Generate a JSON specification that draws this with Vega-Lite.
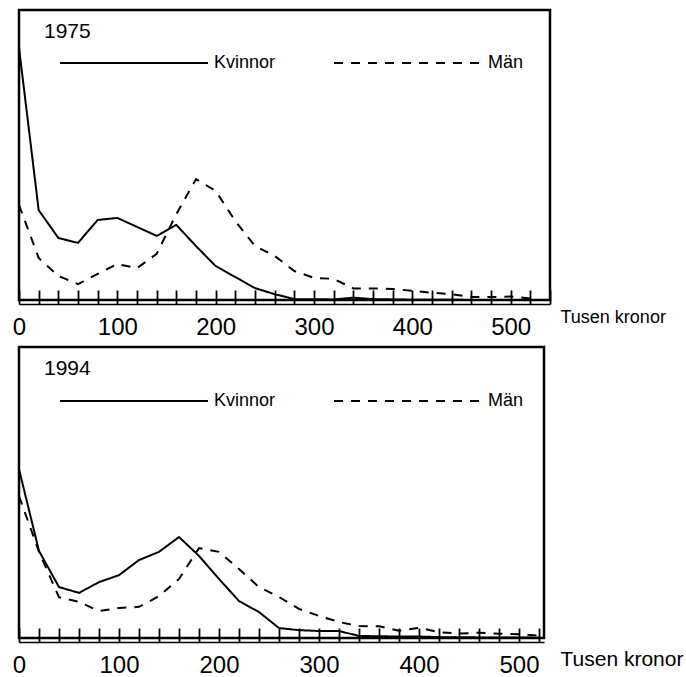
{
  "$schema": "https://vega.github.io/schema/vega-lite/v6.json",
  "padding": {"left": 11, "top": 8, "right": 0, "bottom": 0},
  "background": "white",
  "spacing": 4,
  "config": {
    "view": {"stroke": "black", "strokeWidth": 2.5},
    "font": "Liberation Sans",
    "title": {"fontWeight": "normal", "fontSize": 21, "color": "black"},
    "axis": {
      "grid": false,
      "domainColor": "black",
      "domainWidth": 1.5,
      "tickColor": "black",
      "tickWidth": 1.8,
      "tickSize": -14,
      "offset": 4,
      "labelColor": "black",
      "labelFontSize": 24,
      "labelPadding": 25,
      "labelFlush": false,
      "labelOverlap": false,
      "labelExpr": "datum.value % 100 == 0 ? datum.label : ''",
      "titleFontWeight": "normal",
      "titleColor": "black",
      "titleAlign": "left",
      "titleBaseline": "top",
      "titleAnchor": "start"
    },
    "legend": {
      "orient": "none",
      "direction": "horizontal",
      "symbolType": "M-10,0H10",
      "symbolSize": 219,
      "symbolStrokeWidth": 2,
      "symbolStrokeColor": "black",
      "labelFont": "Liberation Sans",
      "labelFontSize": 18,
      "labelColor": "black",
      "labelOffset": 71,
      "columnPadding": 54,
      "padding": 0,
      "title": null
    }
  },
  "data": {
    "values": [
      {"year": 1975, "sex": "Kvinnor", "income": 0, "share": 87},
      {"year": 1975, "sex": "Kvinnor", "income": 20, "share": 31},
      {"year": 1975, "sex": "Kvinnor", "income": 40, "share": 21.4},
      {"year": 1975, "sex": "Kvinnor", "income": 60, "share": 19.7},
      {"year": 1975, "sex": "Kvinnor", "income": 80, "share": 27.6},
      {"year": 1975, "sex": "Kvinnor", "income": 100, "share": 28.3},
      {"year": 1975, "sex": "Kvinnor", "income": 120, "share": 25.2},
      {"year": 1975, "sex": "Kvinnor", "income": 140, "share": 22.1},
      {"year": 1975, "sex": "Kvinnor", "income": 160, "share": 25.9},
      {"year": 1975, "sex": "Kvinnor", "income": 180, "share": 18.6},
      {"year": 1975, "sex": "Kvinnor", "income": 200, "share": 11.7},
      {"year": 1975, "sex": "Kvinnor", "income": 220, "share": 7.9},
      {"year": 1975, "sex": "Kvinnor", "income": 240, "share": 4.1},
      {"year": 1975, "sex": "Kvinnor", "income": 260, "share": 2},
      {"year": 1975, "sex": "Kvinnor", "income": 280, "share": 0.3},
      {"year": 1975, "sex": "Kvinnor", "income": 300, "share": 0.3},
      {"year": 1975, "sex": "Kvinnor", "income": 320, "share": 0.2},
      {"year": 1975, "sex": "Kvinnor", "income": 340, "share": 0.8},
      {"year": 1975, "sex": "Kvinnor", "income": 360, "share": 0.3},
      {"year": 1975, "sex": "Kvinnor", "income": 380, "share": 0.2},
      {"year": 1975, "sex": "Kvinnor", "income": 400, "share": 0.1},
      {"year": 1975, "sex": "Kvinnor", "income": 420, "share": 0.1},
      {"year": 1975, "sex": "Kvinnor", "income": 440, "share": 0.1},
      {"year": 1975, "sex": "Kvinnor", "income": 460, "share": 0},
      {"year": 1975, "sex": "Kvinnor", "income": 480, "share": 0},
      {"year": 1975, "sex": "Kvinnor", "income": 500, "share": 0},
      {"year": 1975, "sex": "Kvinnor", "income": 520, "share": 0},
      {"year": 1975, "sex": "Män", "income": 0, "share": 32.8},
      {"year": 1975, "sex": "Män", "income": 20, "share": 14.5},
      {"year": 1975, "sex": "Män", "income": 40, "share": 8.3},
      {"year": 1975, "sex": "Män", "income": 60, "share": 5.5},
      {"year": 1975, "sex": "Män", "income": 80, "share": 9},
      {"year": 1975, "sex": "Män", "income": 100, "share": 12.4},
      {"year": 1975, "sex": "Män", "income": 120, "share": 11},
      {"year": 1975, "sex": "Män", "income": 140, "share": 15.9},
      {"year": 1975, "sex": "Män", "income": 160, "share": 29.6},
      {"year": 1975, "sex": "Män", "income": 180, "share": 41.7},
      {"year": 1975, "sex": "Män", "income": 200, "share": 37.6},
      {"year": 1975, "sex": "Män", "income": 220, "share": 27.2},
      {"year": 1975, "sex": "Män", "income": 240, "share": 18.6},
      {"year": 1975, "sex": "Män", "income": 260, "share": 15.2},
      {"year": 1975, "sex": "Män", "income": 280, "share": 10},
      {"year": 1975, "sex": "Män", "income": 300, "share": 7.6},
      {"year": 1975, "sex": "Män", "income": 320, "share": 7.3},
      {"year": 1975, "sex": "Män", "income": 340, "share": 4},
      {"year": 1975, "sex": "Män", "income": 360, "share": 4},
      {"year": 1975, "sex": "Män", "income": 380, "share": 3.8},
      {"year": 1975, "sex": "Män", "income": 400, "share": 3.2},
      {"year": 1975, "sex": "Män", "income": 420, "share": 2.5},
      {"year": 1975, "sex": "Män", "income": 440, "share": 2},
      {"year": 1975, "sex": "Män", "income": 460, "share": 1},
      {"year": 1975, "sex": "Män", "income": 480, "share": 1},
      {"year": 1975, "sex": "Män", "income": 500, "share": 1.2},
      {"year": 1975, "sex": "Män", "income": 520, "share": 0.5},
      {"year": 1994, "sex": "Kvinnor", "income": 0, "share": 58},
      {"year": 1994, "sex": "Kvinnor", "income": 20, "share": 29.9},
      {"year": 1994, "sex": "Kvinnor", "income": 40, "share": 17.5},
      {"year": 1994, "sex": "Kvinnor", "income": 60, "share": 15.5},
      {"year": 1994, "sex": "Kvinnor", "income": 80, "share": 19.2},
      {"year": 1994, "sex": "Kvinnor", "income": 100, "share": 21.6},
      {"year": 1994, "sex": "Kvinnor", "income": 120, "share": 26.8},
      {"year": 1994, "sex": "Kvinnor", "income": 140, "share": 29.6},
      {"year": 1994, "sex": "Kvinnor", "income": 160, "share": 34.7},
      {"year": 1994, "sex": "Kvinnor", "income": 180, "share": 28.2},
      {"year": 1994, "sex": "Kvinnor", "income": 200, "share": 20.3},
      {"year": 1994, "sex": "Kvinnor", "income": 220, "share": 12.7},
      {"year": 1994, "sex": "Kvinnor", "income": 240, "share": 8.9},
      {"year": 1994, "sex": "Kvinnor", "income": 260, "share": 3.4},
      {"year": 1994, "sex": "Kvinnor", "income": 280, "share": 2.7},
      {"year": 1994, "sex": "Kvinnor", "income": 300, "share": 2.4},
      {"year": 1994, "sex": "Kvinnor", "income": 320, "share": 2.4},
      {"year": 1994, "sex": "Kvinnor", "income": 340, "share": 0.7},
      {"year": 1994, "sex": "Kvinnor", "income": 360, "share": 0.6},
      {"year": 1994, "sex": "Kvinnor", "income": 380, "share": 0.5},
      {"year": 1994, "sex": "Kvinnor", "income": 400, "share": 0.5},
      {"year": 1994, "sex": "Kvinnor", "income": 420, "share": 0.3},
      {"year": 1994, "sex": "Kvinnor", "income": 440, "share": 0.3},
      {"year": 1994, "sex": "Kvinnor", "income": 460, "share": 0.2},
      {"year": 1994, "sex": "Kvinnor", "income": 480, "share": 0.2},
      {"year": 1994, "sex": "Kvinnor", "income": 500, "share": 0.2},
      {"year": 1994, "sex": "Kvinnor", "income": 520, "share": 0.1},
      {"year": 1994, "sex": "Män", "income": 0, "share": 48.8},
      {"year": 1994, "sex": "Män", "income": 20, "share": 29.6},
      {"year": 1994, "sex": "Män", "income": 40, "share": 14},
      {"year": 1994, "sex": "Män", "income": 60, "share": 12.4},
      {"year": 1994, "sex": "Män", "income": 80, "share": 9.3},
      {"year": 1994, "sex": "Män", "income": 100, "share": 10.3},
      {"year": 1994, "sex": "Män", "income": 120, "share": 10.7},
      {"year": 1994, "sex": "Män", "income": 140, "share": 14.4},
      {"year": 1994, "sex": "Män", "income": 160, "share": 20.3},
      {"year": 1994, "sex": "Män", "income": 180, "share": 30.9},
      {"year": 1994, "sex": "Män", "income": 200, "share": 29.6},
      {"year": 1994, "sex": "Män", "income": 220, "share": 23.7},
      {"year": 1994, "sex": "Män", "income": 240, "share": 17.5},
      {"year": 1994, "sex": "Män", "income": 260, "share": 14.1},
      {"year": 1994, "sex": "Män", "income": 280, "share": 10},
      {"year": 1994, "sex": "Män", "income": 300, "share": 7.6},
      {"year": 1994, "sex": "Män", "income": 320, "share": 5.5},
      {"year": 1994, "sex": "Män", "income": 340, "share": 4.1},
      {"year": 1994, "sex": "Män", "income": 360, "share": 4},
      {"year": 1994, "sex": "Män", "income": 380, "share": 2.5},
      {"year": 1994, "sex": "Män", "income": 400, "share": 3.5},
      {"year": 1994, "sex": "Män", "income": 420, "share": 2},
      {"year": 1994, "sex": "Män", "income": 440, "share": 1.5},
      {"year": 1994, "sex": "Män", "income": 460, "share": 1.8},
      {"year": 1994, "sex": "Män", "income": 480, "share": 1.5},
      {"year": 1994, "sex": "Män", "income": 500, "share": 1.3},
      {"year": 1994, "sex": "Män", "income": 520, "share": 0.8}
    ]
  },
  "resolve": {
    "scale": {"x": "independent", "y": "independent", "strokeDash": "independent"},
    "legend": {"strokeDash": "independent"}
  },
  "vconcat": [
    {
      "width": 531,
      "height": 290,
      "title": {"text": "1975", "anchor": "start", "frame": "group", "offset": -32, "dx": 25},
      "transform": [{"filter": "datum.year == 1975"}],
      "mark": {"type": "line", "strokeWidth": 2, "color": "black"},
      "encoding": {
        "x": {
          "field": "income", "type": "quantitative",
          "scale": {"domain": [0, 540], "nice": false},
          "axis": {
            "values": [0,20,40,60,80,100,120,140,160,180,200,220,240,260,280,300,320,340,360,380,400,420,440,460,480,500,520,540],
            "title": "Tusen kronor",
            "titleFontSize": 18,
            "titleX": 541,
            "titleY": 4
          }
        },
        "y": {"field": "share", "type": "quantitative", "scale": {"domain": [0, 100], "nice": false}, "axis": null},
        "strokeDash": {
          "field": "sex", "type": "nominal",
          "scale": {"domain": ["Kvinnor", "Män"], "range": [[1, 0], [9, 8]]},
          "legend": {"legendX": 106, "legendY": 44}
        }
      }
    },
    {
      "width": 525,
      "height": 291,
      "title": {"text": "1994", "anchor": "start", "frame": "group", "offset": -32, "dx": 25},
      "transform": [{"filter": "datum.year == 1994"}],
      "mark": {"type": "line", "strokeWidth": 2, "color": "black"},
      "encoding": {
        "x": {
          "field": "income", "type": "quantitative",
          "scale": {"domain": [0, 525], "nice": false},
          "axis": {
            "values": [0,20,40,60,80,100,120,140,160,180,200,220,240,260,280,300,320,340,360,380,400,420,440,460,480,500,520],
            "title": "Tusen kronor",
            "titleFontSize": 21,
            "titleX": 541,
            "titleY": 6
          }
        },
        "y": {"field": "share", "type": "quantitative", "scale": {"domain": [0, 100], "nice": false}, "axis": null},
        "strokeDash": {
          "field": "sex", "type": "nominal",
          "scale": {"domain": ["Kvinnor", "Män"], "range": [[1, 0], [9, 8]]},
          "legend": {"legendX": 106, "legendY": 45}
        }
      }
    }
  ]
}
